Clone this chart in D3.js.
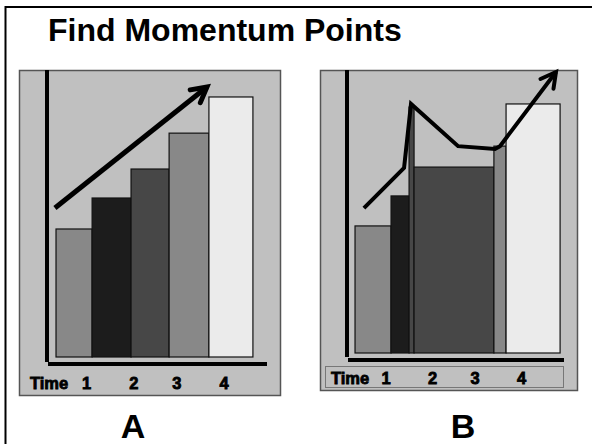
<!DOCTYPE html>
<html>
<head>
<meta charset="utf-8">
<script src="https://cdn.jsdelivr.net/npm/d3@7"></script>
<style>
  html, body { margin: 0; padding: 0; background: #fff; }
  svg { display: block; font-family: "Liberation Sans", Arial, sans-serif; }
</style>
</head>
<body>
<svg width="592" height="444"></svg>
<script>
// tick labels under both charts (x position in percent of the time axis)
const tickLabels = ["1", "2", "3", "4"];
const tickPos = [18, 39.5, 59, 80.5];

// chart A: bar edges along time axis, bar heights, bar fills
const edgesA = [4.1, 20.5, 38.2, 55.5, 73.6, 93.6];
const valuesA = [44.6, 55.4, 65.5, 78.0, 90.6];
const fillsA = ["#888888", "#1c1c1c", "#474747", "#888888", "#ebebeb"];
const arrowA = [[3.6, 51.9], [72.7, 94.1]];

// chart B: uneven bars, with a thin one squeezed in
const edgesB = [3.7, 20.3, 28.6, 30.9, 67.7, 73.3, 98.2];
const valuesB = [44.9, 55.5, 86.9, 65.7, 73.1, 88.0];
const fillsB = ["#888888", "#1c1c1c", "#474747", "#474747", "#888888", "#ebebeb"];
const lineB = [[7.8, 51.2], [26.3, 65.4], [29.5, 88.0], [51.2, 73.1], [68.2, 72.1], [70.5, 73.1], [96.3, 99.3]];

const svg = d3.select("svg");

// frame (only left/top edges are inside the picture)
svg.append("path")
  .attr("d", "M5.5,444 L5.5,7 L592,7")
  .attr("fill", "none")
  .attr("stroke", "#000")
  .attr("stroke-width", 2);

svg.append("text")
  .attr("x", 48)
  .attr("y", 41)
  .attr("font-size", 32)
  .attr("font-weight", "bold")
  .attr("fill", "#000")
  .text("Find Momentum Points");

function arrowHead(g, p1, p2, len, width) {
  const ang = Math.atan2(p2[1] - p1[1], p2[0] - p1[0]);
  const a1 = ang + Math.PI - 0.5, a2 = ang + Math.PI + 0.5;
  g.append("path")
    .attr("d", `M${p2[0] + len * Math.cos(a1)},${p2[1] + len * Math.sin(a1)}
                L${p2[0]},${p2[1]}
                L${p2[0] + len * Math.cos(a2)},${p2[1] + len * Math.sin(a2)}`)
    .attr("fill", "none")
    .attr("stroke", "#000")
    .attr("stroke-width", width)
    .attr("stroke-linecap", "round")
    .attr("stroke-linejoin", "miter");
}

function drawPanel(attr, edges, values, fills, linePts, lineWidth) {
  const g = svg.append("g");
  // panel background
  g.append("rect")
    .attr("x", attr.x).attr("y", attr.y)
    .attr("width", attr.w).attr("height", attr.h)
    .attr("fill", "#c0c0c0")
    .attr("stroke", "#555")
    .attr("stroke-width", 1.5);

  const scX = d3.scaleLinear().domain([0, 100]).range([attr.left, attr.right]);
  const scY = d3.scaleLinear().domain([0, 100]).range([attr.bottom, attr.top]);

  const bars = values.map((v, i) => ({ x0: edges[i], x1: edges[i + 1], v: v, fill: fills[i] }));
  g.selectAll(".bar")
    .data(bars)
    .enter()
    .append("rect")
    .attr("class", "bar")
    .attr("x", d => scX(d.x0))
    .attr("y", d => scY(d.v))
    .attr("width", d => scX(d.x1) - scX(d.x0))
    .attr("height", d => scY(0) - scY(d.v))
    .attr("fill", d => d.fill)
    .attr("stroke", "#111")
    .attr("stroke-width", 1.2);

  // axes: thick black lines
  g.append("line")
    .attr("x1", attr.left).attr("x2", attr.left)
    .attr("y1", attr.top).attr("y2", attr.vAxisEnd)
    .attr("stroke", "#000").attr("stroke-width", 4);
  g.append("line")
    .attr("x1", attr.left + 1).attr("x2", attr.right)
    .attr("y1", attr.hAxisY).attr("y2", attr.hAxisY)
    .attr("stroke", "#000").attr("stroke-width", 4);

  if (attr.labelBox) {
    g.append("rect")
      .attr("x", attr.labelBox[0]).attr("y", attr.labelBox[1])
      .attr("width", attr.labelBox[2]).attr("height", attr.labelBox[3])
      .attr("fill", "#c0c0c0")
      .attr("stroke", "#777")
      .attr("stroke-width", 1);
  }

  // momentum line / arrow
  const pts = linePts.map(p => [scX(p[0]), scY(p[1])]);
  g.append("path")
    .attr("d", d3.line()(pts))
    .attr("fill", "none")
    .attr("stroke", "#000")
    .attr("stroke-width", lineWidth)
    .attr("stroke-linejoin", "miter");
  arrowHead(g, pts[pts.length - 2], pts[pts.length - 1], 17, lineWidth);

  // time labels
  g.append("text")
    .attr("x", attr.timeX).attr("y", attr.labelY)
    .attr("font-size", 16.5).attr("font-weight", "bold")
    .attr("stroke", "#000").attr("stroke-width", 0.8)
    .text("Time");
  g.selectAll(".tick")
    .data(tickLabels)
    .enter()
    .append("text")
    .attr("class", "tick")
    .attr("x", (d, i) => scX(tickPos[i]))
    .attr("y", attr.labelY)
    .attr("text-anchor", "middle")
    .attr("font-size", 16.5).attr("font-weight", "bold")
    .attr("stroke", "#000").attr("stroke-width", 0.8)
    .text(d => d);

  svg.append("text")
    .attr("x", attr.nameX).attr("y", 438)
    .attr("text-anchor", "middle")
    .attr("font-size", 34).attr("font-weight", "bold")
    .text(attr.name);
}

drawPanel({
  x: 19.5, y: 70.5, w: 261, h: 325,
  left: 47, right: 267, top: 70, bottom: 357,
  vAxisEnd: 362, hAxisY: 364, labelY: 389, timeX: 30,
  name: "A", nameX: 133
}, edgesA, valuesA, fillsA, arrowA, 5);

drawPanel({
  x: 320.5, y: 70.5, w: 257, h: 320,
  left: 347, right: 564, top: 70, bottom: 353,
  vAxisEnd: 357, hAxisY: 360, labelY: 384, timeX: 331,
  labelBox: [325.5, 366.5, 238, 21],
  name: "B", nameX: 463
}, edgesB, valuesB, fillsB, lineB, 4);
</script>
</body>
</html>
